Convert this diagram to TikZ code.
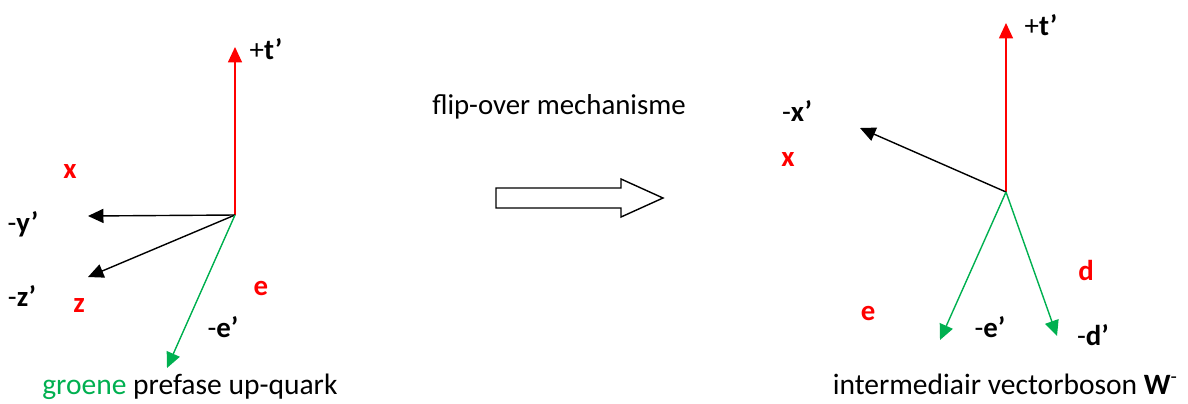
\documentclass[tikz,border=0pt]{standalone}
\usepackage{fontspec}
\setmainfont{Carlito}
\usetikzlibrary{arrows.meta}

\definecolor{axisred}{RGB}{255,0,0}
\definecolor{quarkgreen}{RGB}{0,176,80}

\begin{document}
\begin{tikzpicture}[x=0.025cm, y=-0.025cm,
    >={Triangle[length=11pt, width=10pt]},
    every node/.style={font=\fontsize{20.5}{24}\selectfont, inner sep=0pt},
    vec/.style={->, line width=1pt},
    redlbl/.style={text=axisred, font=\fontsize{20.5}{24}\selectfont\bfseries},
    caption/.style={font=\fontsize{21}{25}\selectfont}]

  \useasboundingbox (0,0) rectangle (1188,403);

  % linker assenstelsel: prefase up-quark
  \coordinate (o1) at (235,215);
  \coordinate (t1) at (235,47);
  \coordinate (y1) at (88,216);
  \coordinate (z1) at (88,277);
  \coordinate (e1) at (167,368);

  \draw[vec, axisred] (o1) -- (t1);
  \draw[vec] (o1) -- (y1);
  \draw[vec] (o1) -- (z1);
  \draw[vec, quarkgreen] (o1) -- (e1);

  \node (t1lbl) at (266,49) {+\textbf{t’}};
  \node (y1lbl) at (23,224) {-\textbf{y’}};
  \node (z1lbl) at (22,296) {-\textbf{z’}};
  \node (e1lbl) at (223,327) {-\textbf{e’}};
  \node[redlbl] (x1red) at (70,172) {x};
  \node[redlbl] (z1red) at (79,306) {z};
  \node[redlbl] (e1red) at (261,288) {e};

  \node[caption, anchor=base west] (cap1) at (42,394) {\textcolor{quarkgreen}{groene} prefase up-quark};

  % overgang
  \node (flip) at (559,107) {flip-over mechanisme};
  \draw[line width=1pt, fill=white]
    (496,188) -- (621,188) -- (621,179) -- (663,198) -- (621,217)
    -- (621,208) -- (496,208) -- cycle;

  % rechter assenstelsel: W-boson
  \coordinate (o2) at (1006,192);
  \coordinate (t2) at (1006,23);
  \coordinate (x2) at (860,128);
  \coordinate (e2) at (940,340);
  \coordinate (d2) at (1057,336);

  \draw[vec, axisred] (o2) -- (t2);
  \draw[vec] (o2) -- (x2);
  \draw[vec, quarkgreen] (o2) -- (e2);
  \draw[vec, quarkgreen] (o2) -- (d2);

  \node (t2lbl) at (1041,25) {+\textbf{t’}};
  \node (x2lbl) at (797,111) {-\textbf{x’}};
  \node (e2lbl) at (990,327) {-\textbf{e’}};
  \node (d2lbl) at (1093,335) {-\textbf{d’}};
  \node[redlbl] (x2red) at (788,160) {x};
  \node[redlbl] (d2red) at (1086,270) {d};
  \node[redlbl] (e2red) at (868,313) {e};

  \node[caption, anchor=base east] (cap2) at (1178,394) {intermediair vectorboson \textbf{W}\textsuperscript{-}};

\end{tikzpicture}
\end{document}
